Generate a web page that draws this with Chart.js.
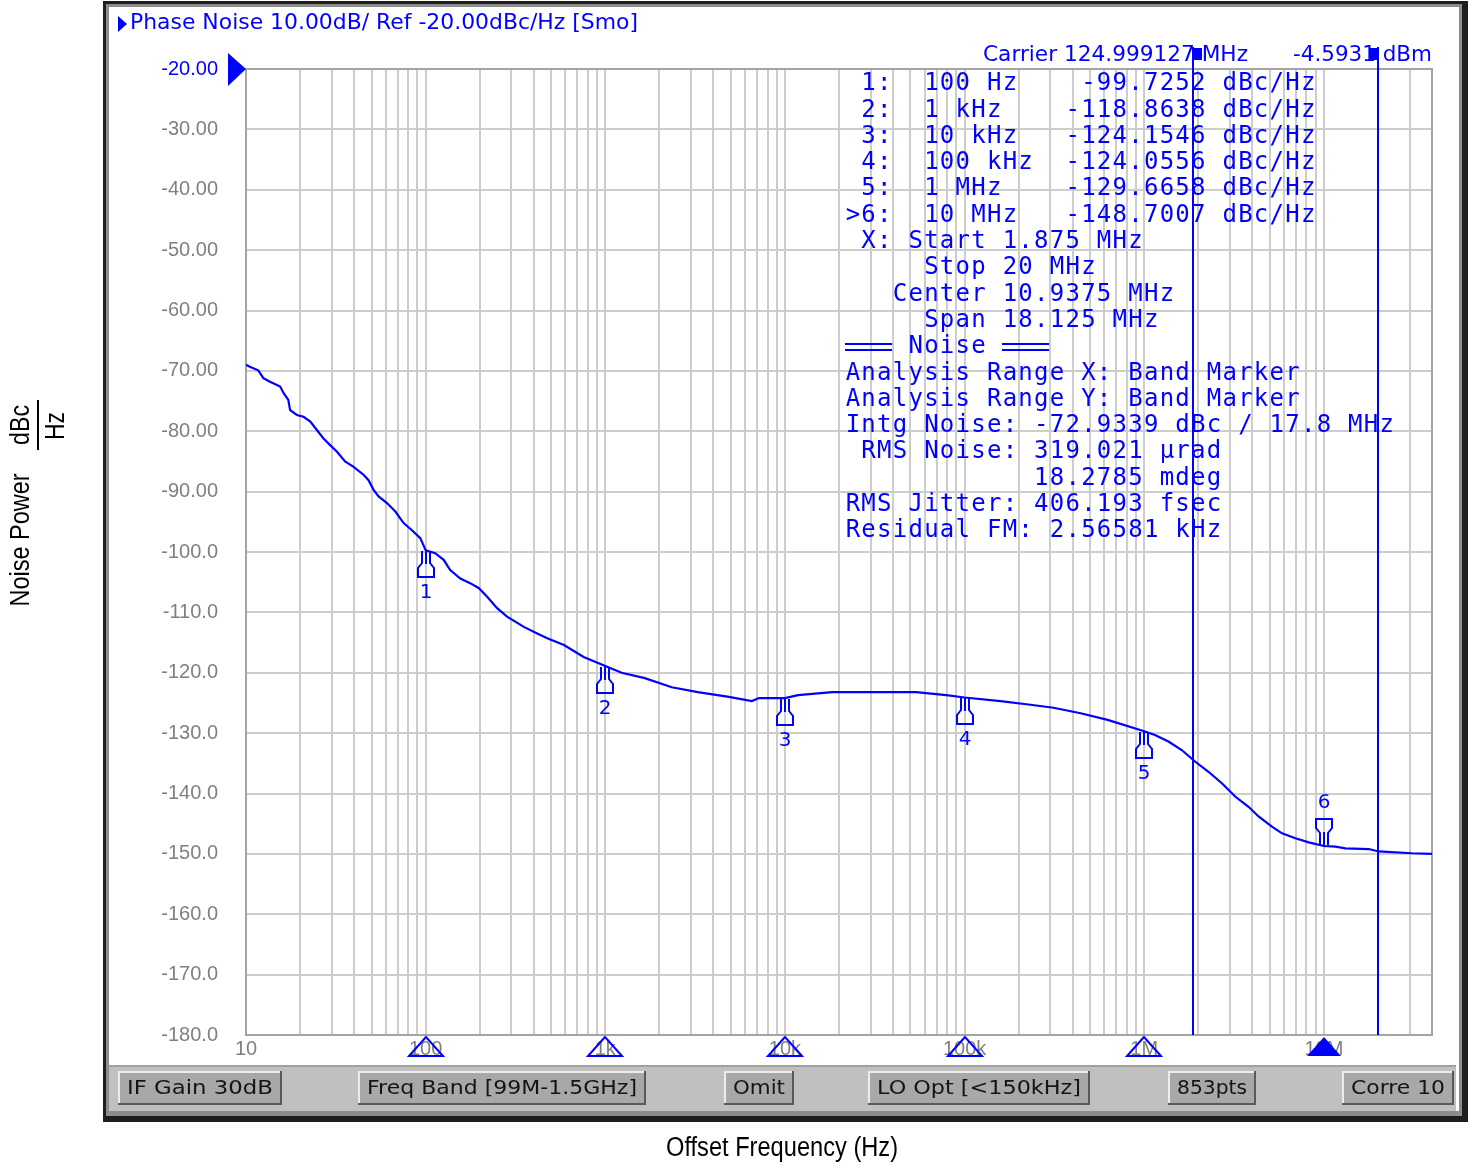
<!DOCTYPE html>
<html>
<head>
<meta charset="utf-8">
<title>Phase Noise</title>
<script src="https://cdn.jsdelivr.net/npm/chart.js@4.4.1/dist/chart.umd.min.js"></script>
<style>
  html, body { margin: 0; padding: 0; background: #fff; }
  #wrap { width: 1471px; height: 1167px; }
</style>
</head>
<body>
<div id="wrap"><canvas id="pn" width="1471" height="1167"></canvas></div>
<script>
// trace: offset frequency (Hz) and noise (dBc/Hz)
const freqHz = [
  10, 10.5, 11.7, 12.5, 13.6, 15.5, 16.2, 17.2, 17.6, 19.2,
  20.9, 22.8, 24.8, 27, 29.4, 32.1, 35.6, 39.7, 45.1, 48.1,
  51.3, 54.7, 60.9, 67.8, 75.4, 83.9, 93.4, 100, 113, 126,
  137, 156, 178, 198, 220, 250, 284, 352, 418, 475,
  589, 758, 1000, 1233, 1659, 2344, 3273, 4875, 6546, 7178,
  10000, 11830, 18320, 53830, 79070, 100000, 158500, 232800, 312600, 442600,
  625600, 1e6, 1.148e6, 1.364e6, 1.618e6, 1.919e6, 2.28e6, 2.705e6, 3.209e6, 3.81e6,
  4.33e6, 5.14e6, 5.85e6, 6.94e6, 8.24e6, 1e7, 1.16e7, 1.318e7, 1.78e7, 2.02e7,
  3.1e7, 4e7
];
const noiseDbc = [
  -69.0, -69.3, -69.9, -71.2, -71.8, -72.6, -73.7, -74.8, -76.5, -77.3,
  -77.6, -78.4, -79.8, -81.2, -82.3, -83.4, -85.0, -85.9, -87.2, -88.1,
  -89.7, -90.8, -91.9, -93.3, -95.2, -96.4, -97.7, -99.7, -100.2, -101.3,
  -103.0, -104.4, -105.2, -106.0, -107.4, -109.3, -110.7, -112.4, -113.5, -114.3,
  -115.4, -117.4, -118.9, -120.0, -120.9, -122.4, -123.2, -124.0, -124.7, -124.2,
  -124.2, -123.7, -123.2, -123.2, -123.7, -124.1, -124.7, -125.3, -125.8, -126.7,
  -127.8, -129.7, -130.3, -131.4, -132.8, -134.7, -136.4, -138.3, -140.5, -142.2,
  -143.8, -145.5, -146.6, -147.4, -148.1, -148.7, -148.8, -149.1, -149.2, -149.6,
  -149.9, -150.0
];

// markers
const markerFreq = [100, 1e3, 1e4, 1e5, 1e6, 1e7];
const markerVal = [-99.7252, -118.8638, -124.1546, -124.0556, -129.6658, -148.7007];
const markerText = ["100 Hz", "1 kHz", "10 kHz", "100 kHz", "1 MHz", "10 MHz"];
const activeMarker = 5;

// band markers
const bandStart = 1.875e6;
const bandStop = 20e6;

// axes
const xMin = 10, xMax = 4e7;
const decadeTicks = [10, 100, 1e3, 1e4, 1e5, 1e6, 1e7];
const decadeLabels = ["10", "100", "1k", "10k", "100k", "1M", "10M"];
const yMin = -180, yMax = -20, yStep = 10;

// text panel
const noiseLines = [
  " X: Start 1.875 MHz",
  "     Stop 20 MHz",
  "   Center 10.9375 MHz",
  "     Span 18.125 MHz",
  "    Noise",
  "Analysis Range X: Band Marker",
  "Analysis Range Y: Band Marker",
  "Intg Noise: -72.9339 dBc / 17.8 MHz",
  " RMS Noise: 319.021 \u03bcrad",
  "            18.2785 mdeg",
  "RMS Jitter: 406.193 fsec",
  "Residual FM: 2.56581 kHz",
];
const buttonLabels = ["IF Gain 30dB", "Freq Band [99M-1.5GHz]", "Omit", "LO Opt [<150kHz]", "853pts", "Corre 10"];

const BLUE = "#0000ff";
const GRAY_TXT = "#808080";
const UI_FONT = '"DejaVu Sans", Verdana, sans-serif';
const MONO = '"DejaVu Sans Mono", monospace';
const NARROW = '"Liberation Sans Narrow", "Liberation Sans", Arial, sans-serif';

Chart.defaults.font.family = '"Liberation Sans", Arial, sans-serif';

// grid lines at 1..9 of each decade
const xGrid = [];
decadeTicks.forEach((d) => {
  for (let k = 1; k <= 9; k++) {
    if (d * k <= xMax) xGrid.push(d * k);
  }
});
if (xGrid[xGrid.length - 1] !== xMax) xGrid.push(xMax);

// draws text stretched to a given width
function fitText(c, txt, x, y, w, font, color, align) {
  c.save();
  c.font = font;
  c.fillStyle = color;
  c.textBaseline = "middle";
  c.textAlign = "left";
  const m = c.measureText(txt).width;
  c.translate(x, y);
  c.scale(w / m, 1);
  let ox = 0;
  if (align === "center") ox = -m / 2;
  if (align === "right") ox = -m;
  c.fillText(txt, ox, 0);
  c.restore();
}

// instrument frame, button bar and outside axis titles
const framePlugin = {
  id: "frame",
  beforeDraw(chart) {
    const c = chart.ctx;
    c.save();
    c.fillStyle = "#fff";
    c.fillRect(0, 0, chart.width, chart.height);

    c.fillStyle = "#1e1e1e";
    c.fillRect(103, 1, 1365, 1121);
    c.fillStyle = "#8c8c8c";
    c.fillRect(106, 4, 1356, 1112);
    c.fillStyle = "#fff";
    c.fillRect(109, 7, 1350, 1104);

    // button bar
    c.fillStyle = "#c0c0c0";
    c.fillRect(109, 1065, 1347, 46);
    c.fillStyle = "#a0a0a0";
    c.fillRect(109, 1065, 1347, 2);

    const btn = [[118, 164], [358, 288], [724, 70], [868, 222], [1168, 88], [1342, 112]];
    btn.forEach(([bx, bw], i) => {
      const by = 1071, bh = 34;
      c.fillStyle = "#a8a8a8";
      c.fillRect(bx, by, bw, bh);
      c.fillStyle = "#ececec";
      c.fillRect(bx, by, bw, 2);
      c.fillRect(bx, by, 2, bh);
      c.fillStyle = "#5a5a5a";
      c.fillRect(bx, by + bh - 2, bw, 2);
      c.fillRect(bx + bw - 2, by, 2, bh);
      fitText(c, buttonLabels[i], bx + bw / 2, by + bh / 2 + 1, bw - 18, "20px " + UI_FONT, "#141414", "center");
    });

    // outside titles
    fitText(c, "Offset Frequency (Hz)", 782, 1149, 232, "27px " + NARROW, "#000", "center");
    c.save();
    c.translate(22, 540);
    c.rotate(-Math.PI / 2);
    fitText(c, "Noise Power", 0, 0, 133, "27px " + NARROW, "#000", "center");
    c.restore();
    c.save();
    c.translate(22, 425);
    c.rotate(-Math.PI / 2);
    fitText(c, "dBc", 0, 0, 40, "27px " + NARROW, "#000", "center");
    c.restore();
    c.save();
    c.translate(57, 426);
    c.rotate(-Math.PI / 2);
    fitText(c, "Hz", 0, 0, 28, "27px " + NARROW, "#000", "center");
    c.restore();
    c.fillStyle = "#000";
    c.fillRect(37, 400, 2, 50);
    c.restore();
  },
  beforeDatasetsDraw(chart) {
    const c = chart.ctx;
    const a = chart.chartArea;
    c.save();
    c.strokeStyle = "#a4a4a4";
    c.lineWidth = 2;
    c.strokeRect(a.left, a.top, a.right - a.left, a.bottom - a.top);
    c.restore();
  },
};

// markers, band lines and text readouts
const overlayPlugin = {
  id: "overlay",
  afterDraw(chart) {
    const c = chart.ctx;
    const xs = chart.scales.x, ys = chart.scales.y;
    const a = chart.chartArea;
    c.save();

    // title
    c.fillStyle = BLUE;
    c.beginPath();
    c.moveTo(118, 16); c.lineTo(118, 32); c.lineTo(127, 24); c.closePath();
    c.fill();
    fitText(c, "Phase Noise 10.00dB/ Ref -20.00dBc/Hz [Smo]", 130, 24, 508, "21px " + UI_FONT, BLUE, "left");

    // reference level arrow
    const yRef = ys.getPixelForValue(yMax);
    c.beginPath();
    c.moveTo(228, yRef - 16); c.lineTo(228, yRef + 17); c.lineTo(a.left, yRef); c.closePath();
    c.fill();

    // carrier line
    fitText(c, "Carrier 124.999127 MHz", 983, 56, 265, "21px " + UI_FONT, BLUE, "left");
    fitText(c, "-4.5931 dBm", 1432, 56, 139, "21px " + UI_FONT, BLUE, "right");

    // marker table
    const x0 = 845, cw = 15.7, lh = 26.3, y0 = 84;
    const rows = markerText.map((t, i) =>
      (i === activeMarker ? ">" : " ") + (i + 1) + ":  " + t.padEnd(9) +
      markerVal[i].toFixed(4).padStart(9) + " dBc/Hz");
    const allRows = rows.concat(noiseLines);
    c.font = "24px " + MONO;
    c.textAlign = "center";
    c.textBaseline = "middle";
    c.fillStyle = BLUE;
    allRows.forEach((row, r) => {
      const yy = y0 + r * lh;
      for (let i = 0; i < row.length; i++) {
        if (row[i] !== " ") c.fillText(row[i], x0 + i * cw + cw / 2, yy);
      }
    });
    // double bars around "Noise"
    const ny = y0 + (rows.length + 4) * lh;
    c.fillRect(x0, ny - 4, 3 * cw, 2);
    c.fillRect(x0, ny + 2, 3 * cw, 2);
    c.fillRect(x0 + 10 * cw, ny - 4, 3 * cw, 2);
    c.fillRect(x0 + 10 * cw, ny + 2, 3 * cw, 2);

    // band marker lines
    const bx1 = Math.round(xs.getPixelForValue(bandStart));
    const bx2 = Math.round(xs.getPixelForValue(bandStop));
    c.fillRect(bx1 - 1, 47, 2, a.bottom - 47);
    c.fillRect(bx2 - 1, 47, 2, a.bottom - 47);
    c.fillRect(bx1, 48, 9, 12);
    c.fillRect(bx2 - 9, 48, 9, 12);

    // marker flags on the trace
    c.strokeStyle = BLUE;
    c.lineWidth = 2;
    c.font = "20px " + UI_FONT;
    markerFreq.forEach((f, i) => {
      const px = Math.round(xs.getPixelForValue(f));
      const py = Math.round(ys.getPixelForValue(markerVal[i]));
      const s = i === activeMarker ? -1 : 1;
      c.beginPath();
      c.moveTo(px - 4, py + s); c.lineTo(px - 4, py + s * 13); c.lineTo(px - 8, py + s * 18);
      c.lineTo(px - 8, py + s * 27); c.lineTo(px + 8, py + s * 27); c.lineTo(px + 8, py + s * 18);
      c.lineTo(px + 4, py + s * 13); c.lineTo(px + 4, py + s);
      c.stroke();
      c.beginPath();
      c.moveTo(px, py); c.lineTo(px, py + s * 14);
      c.stroke();
      c.fillText(String(i + 1), px, py + s * 43);

      // triangle on the frequency axis
      c.beginPath();
      c.moveTo(px, a.bottom + 2); c.lineTo(px - 17, a.bottom + 21); c.lineTo(px + 17, a.bottom + 21);
      c.closePath();
      if (i === activeMarker) c.fill(); else c.stroke();
    });
    c.restore();
  },
};

const points = freqHz.map((f, i) => ({ x: f, y: noiseDbc[i] }));

const ctx = document.getElementById("pn").getContext("2d");

window.pnChart = new Chart(ctx, {
  type: "line",
  data: {
    datasets: [
      {
        label: "Phase Noise",
        data: points,
        borderColor: BLUE,
        borderWidth: 2.2,
        pointRadius: 0,
        tension: 0,
        fill: false,
      },
    ],
  },
  options: {
    responsive: false,
    animation: false,
    devicePixelRatio: 1,
    layout: { padding: { left: 106, right: 39, top: 69, bottom: 102 } },
    plugins: { legend: { display: false }, tooltip: { enabled: false } },
    scales: {
      x: {
        type: "logarithmic",
        min: xMin,
        max: xMax,
        afterBuildTicks: (s) => { s.ticks = xGrid.map((v) => ({ value: v })); },
        afterFit: (s) => { s.height = 30; },
        grid: { color: "#cdcdcd", lineWidth: 2, drawTicks: false },
        border: { display: false },
        ticks: {
          autoSkip: false,
          maxRotation: 0,
          minRotation: 0,
          padding: 2,
          color: GRAY_TXT,
          font: { size: 20 },
          callback: (v) => {
            const k = decadeTicks.indexOf(v);
            return k >= 0 ? decadeLabels[k] : "";
          },
        },
      },
      y: {
        min: yMin,
        max: yMax,
        afterFit: (s) => { s.width = 140; },
        grid: { color: "#cdcdcd", lineWidth: 2, drawTicks: false },
        border: { display: false },
        ticks: {
          stepSize: yStep,
          padding: 28,
          font: { size: 20 },
          color: (c) => (c.tick && c.tick.value === yMax ? BLUE : GRAY_TXT),
          callback: (v) => (v >= -90 ? v.toFixed(2) : v.toFixed(1)),
        },
      },
    },
  },
  plugins: [framePlugin, overlayPlugin],
});
</script>
</body>
</html>
